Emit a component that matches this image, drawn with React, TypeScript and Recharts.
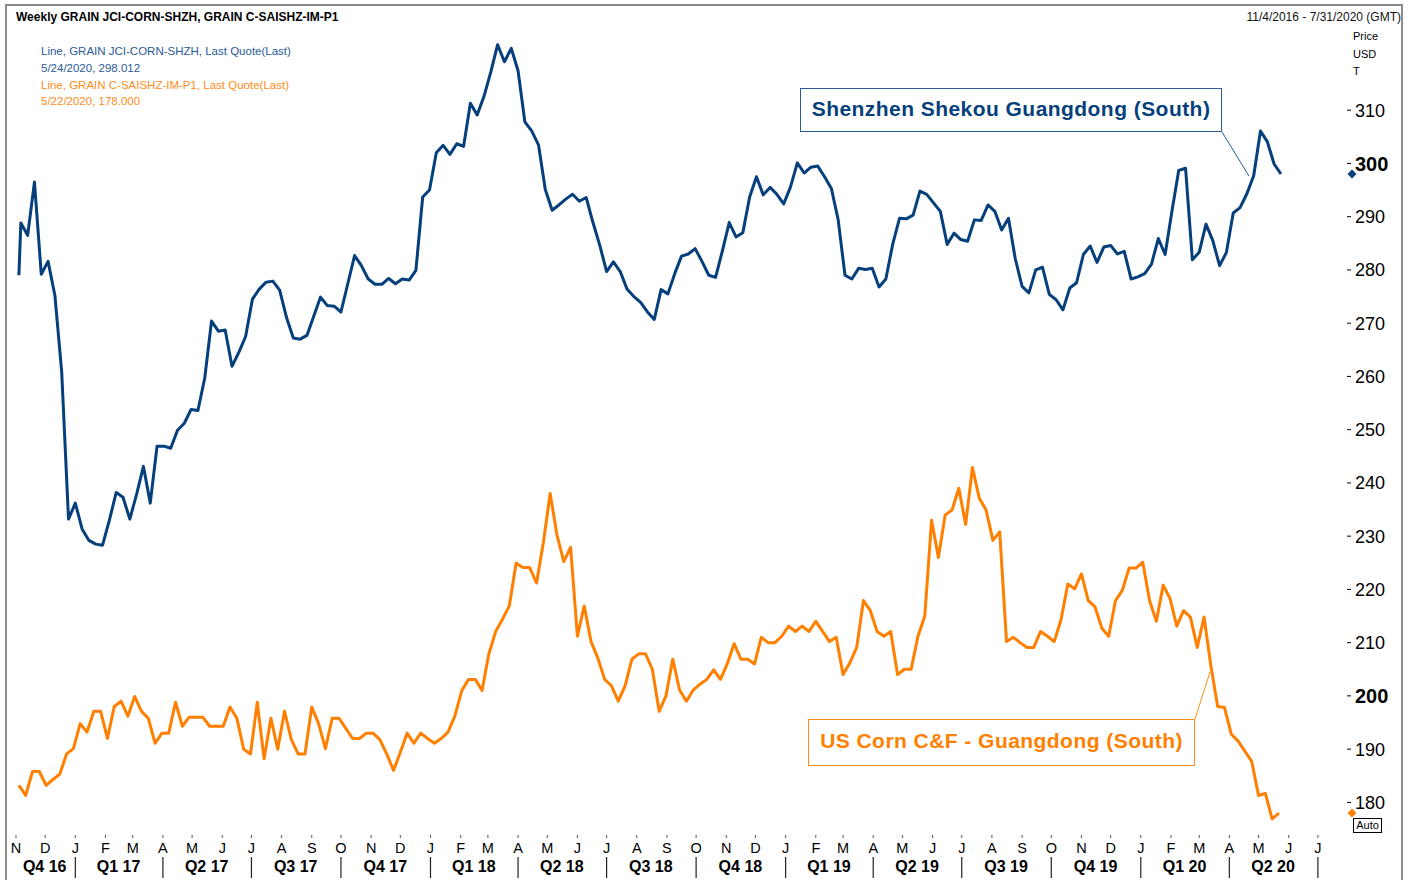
import React from "react";
import { LineChart, Line, XAxis, YAxis, ReferenceDot } from "recharts";

// ---------- data ----------
const DAY = 86400000;
const WEEK = 7 * DAY;

// GRAIN JCI-CORN-SHZH (weekly, Sundays; first quote a Friday)
const shzhFirstDate = "2016-11-04";
const shzhWeeklyStart = "2016-11-06";
const shzhValues = [
  279.0, 288.8, 286.5, 296.5, 279.2, 281.6, 275.2, 260.8, 233.2, 236.2,
  231.3, 229.2, 228.5, 228.3, 233.0, 238.2, 237.3, 233.2, 237.9, 243.1,
  236.2, 246.9, 246.9, 246.5, 249.9, 251.2, 253.8, 253.6, 259.7, 270.4,
  268.5, 268.7, 261.9, 264.5, 267.5, 274.5, 276.4, 277.7, 277.9, 276.2,
  271.1, 267.2, 267.0, 267.7, 271.3, 274.9, 273.3, 273.2, 272.1, 277.4,
  282.7, 280.8, 278.3, 277.3, 277.3, 278.4, 277.4, 278.3, 278.1, 279.9,
  293.7, 295.0, 302.0, 303.4, 301.7, 303.7, 303.2, 311.3, 309.1, 312.6,
  317.2, 322.3, 319.1, 321.6, 317.4, 307.8, 306.1, 303.5, 295.1, 291.2,
  292.2, 293.3, 294.2, 292.9, 293.6, 288.9, 284.6, 279.7, 281.5, 279.7,
  276.4, 275.0, 273.9, 272.1, 270.7, 276.3, 275.5, 279.3, 282.6, 283.0,
  284.0, 281.6, 279.0, 278.6, 283.6, 288.9, 286.2, 287.0, 293.7, 297.5,
  294.1, 295.5, 294.2, 292.4, 295.6, 300.1, 298.2, 299.3, 299.5, 297.5,
  295.3, 289.4, 279.0, 278.3, 280.3, 280.1, 280.3, 276.8, 278.3, 284.8,
  289.7, 289.6, 290.3, 294.8, 294.2, 292.6, 291.0, 284.8, 286.9, 285.7,
  285.4, 289.4, 289.3, 292.2, 291.0, 287.5, 289.7, 282.1, 276.9, 275.7,
  280.0, 280.5, 275.4, 274.4, 272.5, 276.6, 277.6, 282.9, 284.5, 281.4,
  284.3, 284.6, 283.0, 283.5, 278.3, 278.7, 279.3, 281.1, 285.9, 282.9,
  291.0, 298.7, 299.1, 281.9, 283.3, 288.6, 285.5, 280.8, 283.3, 290.7,
  291.7, 294.3, 297.7, 306.1, 304.1, 299.9, 298.012,
];

// GRAIN C-SAISHZ-IM-P1 (weekly, Fridays)
const csaiWeeklyStart = "2016-11-04";
const csaiValues = [
  183.2, 181.3, 185.8, 185.8, 183.2, 184.3, 185.3, 189.1, 190.1, 194.8,
  193.2, 197.1, 197.1, 192.0, 198.0, 199.0, 196.2, 199.9, 197.1, 195.8,
  191.1, 193.0, 193.0, 198.8, 194.3, 196.0, 196.0, 196.0, 194.3, 194.3,
  194.3, 197.9, 195.8, 190.0, 189.1, 198.8, 188.2, 195.8, 190.0, 197.1,
  191.8, 189.1, 189.1, 197.9, 194.8, 190.1, 195.8, 195.8, 193.9, 192.0,
  192.0, 193.0, 193.0, 191.8, 189.1, 186.0, 189.4, 193.0, 191.1, 193.0,
  192.0, 191.1, 192.0, 193.2, 196.2, 200.9, 203.1, 203.1, 201.0, 207.9,
  212.1, 214.4, 216.9, 224.9, 224.1, 224.1, 221.2, 228.8, 238.0, 230.2,
  225.2, 227.9, 211.2, 216.9, 210.2, 207.1, 203.1, 201.9, 199.0, 201.9,
  206.9, 207.9, 207.9, 205.0, 197.1, 200.0, 206.9, 201.1, 199.0, 201.1,
  202.2, 203.1, 204.9, 203.1, 206.0, 209.8, 206.9, 206.9, 206.0, 211.0,
  210.0, 210.0, 211.2, 213.1, 212.1, 213.1, 212.1, 214.0, 212.1, 210.2,
  211.0, 204.0, 206.2, 209.1, 217.9, 216.0, 212.1, 211.2, 212.1, 204.0,
  205.0, 205.0, 211.2, 215.0, 233.0, 226.0, 234.0, 234.9, 239.0, 232.2,
  242.9, 237.1, 234.9, 229.2, 230.8, 210.2, 211.0, 210.0, 209.1, 209.1,
  212.1, 211.2, 210.2, 214.3, 221.0, 220.1, 222.9, 217.9, 216.7, 212.7,
  211.2, 217.9, 219.8, 224.0, 224.0, 225.1, 217.9, 214.0, 220.8, 218.3,
  213.1, 216.0, 214.8, 209.1, 214.8, 205.7, 198.0, 197.8, 192.8, 191.5,
  189.6, 187.7, 181.3, 181.7, 176.9, 178.0,
];

const monthInitials = ["J", "F", "M", "A", "M", "J", "J", "A", "S", "O", "N", "D"];
const quarterLabels = [
  "Q4 16", "Q1 17", "Q2 17", "Q3 17", "Q4 17", "Q1 18", "Q2 18", "Q3 18",
  "Q4 18", "Q1 19", "Q2 19", "Q3 19", "Q4 19", "Q1 20", "Q2 20",
];
const priceTicks = [180, 190, 200, 210, 220, 230, 240, 250, 260, 270, 280, 290, 300, 310];
const boldTicks = [200, 300];

const headerTitle = "Weekly GRAIN JCI-CORN-SHZH, GRAIN C-SAISHZ-IM-P1";
const headerRange = "11/4/2016 - 7/31/2020 (GMT)";
const legendLines = [
  "Line, GRAIN JCI-CORN-SHZH, Last Quote(Last)",
  "5/24/2020, 298.012",
  "Line, GRAIN C-SAISHZ-IM-P1, Last Quote(Last)",
  "5/22/2020, 178.000",
];
const blueLabel = "Shenzhen Shekou Guangdong (South)";
const orangeLabel = "US Corn C&F - Guangdong (South)";

// ---------- derived ----------
const X_START = Date.UTC(2016, 9, 31);
const X_END = X_START + 1372 * DAY;
const parse = (s: string) => Date.parse(s + "T00:00:00Z");

const shzhData = shzhValues.map((v, i) => ({
  t: i === 0 ? parse(shzhFirstDate) : parse(shzhWeeklyStart) + (i - 1) * WEEK,
  v,
}));
const csaiData = csaiValues.map((v, i) => ({ t: parse(csaiWeeklyStart) + i * WEEK, v }));

const monthTicks: number[] = [];
for (let k = 0; k <= 44; k++) monthTicks.push(Date.UTC(2016, 10 + k, 1));
// quarter label anchors (centre of the visible part of each quarter, nudged off month starts)
const quarterMids: number[] = quarterLabels.map((_, k) => {
  const s = Math.max(Date.UTC(2016, 9 + 3 * k, 1), X_START);
  const e = Math.min(Date.UTC(2016, 12 + 3 * k, 1), X_END);
  return Math.round((s + e) / 2) - DAY / 2;
});
const allTicks = [...monthTicks, ...quarterMids];

const BLUE = "#053f7c";
const BLUE_TXT = "#2a5b98";
const ORANGE = "#ff7f00";
const ORANGE_TXT = "#ff8c1a";
const FONT = "Arial, 'Liberation Sans', Helvetica, sans-serif";

function TimeTick(props: any) {
  const { x, y, payload } = props;
  const v = payload.value as number;
  const qi = quarterMids.indexOf(v);
  if (qi >= 0) {
    return (
      <text x={x} y={y + 43} textAnchor="middle" fontSize={16} fontWeight="bold" fill="#000" style={{ fontFamily: FONT }}>
        {quarterLabels[qi]}
      </text>
    );
  }
  const m = new Date(v).getUTCMonth();
  return (
    <g>
      <line x1={x} x2={x} y1={y + 6} y2={y + 9} stroke="#555" strokeWidth={1} />
      <text x={x} y={y + 24} textAnchor="middle" fontSize={14.5} fill="#000" style={{ fontFamily: FONT }}>
        {monthInitials[m]}
      </text>
      {m % 3 === 0 && <line x1={x} x2={x} y1={y + 28} y2={y + 49} stroke="#222" strokeWidth={1.2} />}
    </g>
  );
}

function PriceTick(props: any) {
  const { x, y, payload } = props;
  const bold = boldTicks.includes(payload.value);
  return (
    <g>
      <line x1={x - 3} x2={x + 1} y1={y} y2={y} stroke="#000" strokeWidth={1} />
      <text
        x={x + 5}
        y={y}
        dy="0.36em"
        textAnchor="start"
        fontSize={bold ? 20 : 18}
        fontWeight={bold ? "bold" : "normal"}
        fill="#000"
        style={{ fontFamily: FONT }}
      >
        {payload.value}
      </text>
    </g>
  );
}

const diamond = (color: string) => (p: any) => {
  const cx = p.cx + 2;
  const cy = p.cy;
  const r = 4.5;
  return <path d={`M${cx},${cy - r}L${cx + r},${cy}L${cx},${cy + r}L${cx - r},${cy}Z`} fill={color} />;
};

export default function App() {
  return (
    <div
      style={{
        position: "fixed",
        left: 0,
        top: 0,
        width: 1413,
        height: 880,
        overflow: "hidden",
        background: "#fff",
        fontFamily: FONT,
      }}
    >
      <LineChart width={1413} height={880} margin={{ top: 25, right: 0, bottom: 0, left: 15 }}>
        <XAxis
          dataKey="t"
          type="number"
          domain={[X_START, X_END]}
          allowDataOverflow
          ticks={allTicks}
          interval={0}
          tick={TimeTick}
          tickLine={false}
          axisLine={false}
          tickSize={0}
          tickMargin={0}
          height={51}
        />
        <YAxis
          orientation="right"
          type="number"
          domain={[175, 326]}
          allowDataOverflow
          ticks={priceTicks}
          interval={0}
          tick={PriceTick}
          tickLine={false}
          axisLine={false}
          tickSize={0}
          tickMargin={0}
          width={63}
        />
        <Line
          data={shzhData}
          dataKey="v"
          type="linear"
          stroke={BLUE}
          strokeWidth={3}
          dot={false}
          activeDot={false}
          strokeLinejoin="round"
          isAnimationActive={false}
        />
        <Line
          data={csaiData}
          dataKey="v"
          type="linear"
          stroke={ORANGE}
          strokeWidth={3}
          dot={false}
          activeDot={false}
          strokeLinejoin="round"
          isAnimationActive={false}
        />
        <ReferenceDot x={X_END} y={shzhValues[shzhValues.length - 1]} ifOverflow="visible" shape={diamond(BLUE)} />
        <ReferenceDot x={X_END} y={csaiValues[csaiValues.length - 1]} ifOverflow="visible" shape={diamond(ORANGE)} />
      </LineChart>

      {/* frame */}
      <div
        style={{
          position: "absolute",
          left: 5,
          top: 4,
          width: 1394,
          height: 900,
          border: "2px solid #8a8a8a",
          pointerEvents: "none",
        }}
      />

      {/* header */}
      <div style={{ position: "absolute", left: 16, top: 10, fontSize: 12, lineHeight: "14px", fontWeight: "bold", color: "#000", whiteSpace: "nowrap" }}>
        {headerTitle}
      </div>
      <div style={{ position: "absolute", right: 12, top: 10, fontSize: 12, lineHeight: "14px", color: "#111", whiteSpace: "nowrap" }}>
        {headerRange}
      </div>
      {legendLines.map((s, i) => (
        <div
          key={i}
          style={{
            position: "absolute",
            left: 41,
            top: 43 + i * 16.8,
            fontSize: 11.5,
            lineHeight: "16px",
            color: i < 2 ? BLUE_TXT : ORANGE_TXT,
            whiteSpace: "nowrap",
          }}
        >
          {s}
        </div>
      ))}

      {/* axis unit labels */}
      {["Price", "USD", "T"].map((s, i) => (
        <div key={s} style={{ position: "absolute", left: 1353, top: 29 + i * 17.5, fontSize: 11, lineHeight: "14px", color: "#000" }}>
          {s}
        </div>
      ))}
      <div
        style={{
          position: "absolute",
          left: 1353,
          top: 818,
          width: 29,
          height: 15,
          boxSizing: "border-box",
          border: "1px solid #000",
          fontSize: 11,
          lineHeight: "13px",
          textAlign: "center",
          color: "#000",
        }}
      >
        Auto
      </div>

      {/* annotations */}
      <svg width={1413} height={880} style={{ position: "absolute", left: 0, top: 0, pointerEvents: "none" }}>
        <line x1={1222} y1={132} x2={1249} y2={176} stroke={BLUE_TXT} strokeWidth={1} />
        <line x1={1195} y1={719} x2={1210} y2={672} stroke={ORANGE_TXT} strokeWidth={1} />
      </svg>
      <div
        style={{
          position: "absolute",
          left: 800,
          top: 88,
          width: 422,
          height: 44,
          boxSizing: "border-box",
          border: `1px solid ${BLUE_TXT}`,
          background: "#fff",
          color: BLUE,
          fontWeight: "bold",
          fontSize: 21,
          lineHeight: "40px",
          textAlign: "center",
          whiteSpace: "nowrap",
          letterSpacing: 0.45,
        }}
      >
        {blueLabel}
      </div>
      <div
        style={{
          position: "absolute",
          left: 808,
          top: 719,
          width: 387,
          height: 47,
          boxSizing: "border-box",
          border: `1px solid ${ORANGE_TXT}`,
          background: "#fff",
          color: ORANGE,
          fontWeight: "bold",
          fontSize: 21,
          lineHeight: "41px",
          textAlign: "center",
          whiteSpace: "nowrap",
          letterSpacing: 0.45,
        }}
      >
        {orangeLabel}
      </div>
    </div>
  );
}
